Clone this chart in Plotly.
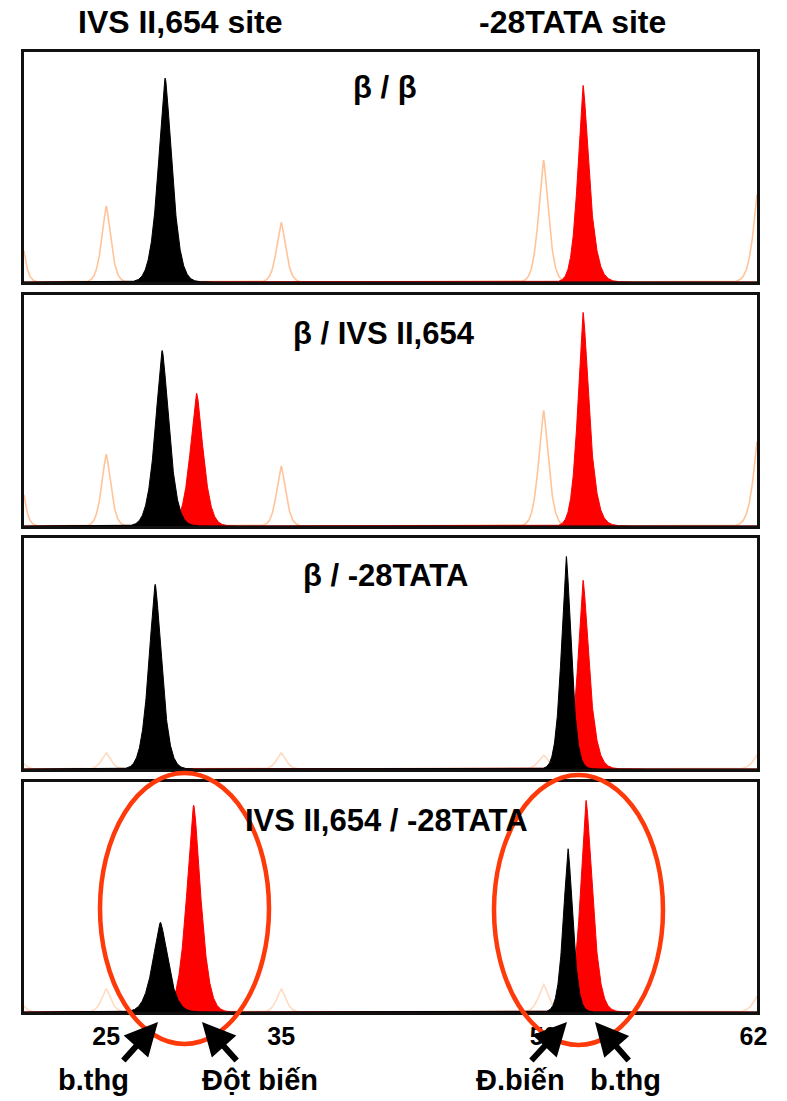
import numpy as np
import plotly.graph_objects as go

# ---------------- data ----------------
column_titles = ["IVS II,654 site", "-28TATA site"]
panel_labels = ["β / β", "β / IVS II,654", "β / -28TATA", "IVS II,654 / -28TATA"]
tick_values = [25, 35, 50, 62]
tick_labels = ["25", "35", "50", "62"]
bottom_labels = ["b.thg", "Đột biến", "Đ.biến", "b.thg"]

# size-standard (orange) peaks: centres and heights per panel
ladder_pos = [20.0, 25.0, 35.0, 50.0, 62.4]
ladder_h_p1 = [0.30, 0.33, 0.26, 0.53, 0.50]
ladder_h_p2 = [0.30, 0.31, 0.26, 0.50, 0.48]
ladder_h_p3 = [0.05, 0.07, 0.07, 0.06, 0.08]
ladder_h_p4 = [0.06, 0.10, 0.10, 0.12, 0.09]
ladder_w = [0.22, 0.24, 0.24, 0.26, 0.30]

# black peaks: position, height, width
black_pos_p1 = [28.37]
black_h_p1 = [0.887]
black_w_p1 = [0.36]
black_pos_p2 = [28.2]
black_h_p2 = [0.76]
black_w_p2 = [0.36]
black_pos_p3 = [27.8, 51.3]
black_h_p3 = [0.80, 0.92]
black_w_p3 = [0.34, 0.26]
black_pos_p4 = [28.1, 51.4]
black_h_p4 = [0.39, 0.71]
black_w_p4 = [0.40, 0.25]

# red peaks
red_pos_p1 = [52.26, 52.9]
red_h_p1 = [0.835, 0.07]
red_w_p1 = [0.28, 0.35]
red_pos_p2 = [30.17, 52.26, 52.9]
red_h_p2 = [0.575, 0.905, 0.07]
red_w_p2 = [0.34, 0.28, 0.35]
red_pos_p3 = [52.26, 52.9]
red_h_p3 = [0.80, 0.06]
red_w_p3 = [0.28, 0.35]
red_pos_p4 = [30.0, 52.43, 53.0]
red_h_p4 = [0.90, 0.90, 0.06]
red_w_p4 = [0.37, 0.30, 0.35]

panels = [
    (ladder_h_p1, black_pos_p1, black_h_p1, black_w_p1, red_pos_p1, red_h_p1, red_w_p1),
    (ladder_h_p2, black_pos_p2, black_h_p2, black_w_p2, red_pos_p2, red_h_p2, red_w_p2),
    (ladder_h_p3, black_pos_p3, black_h_p3, black_w_p3, red_pos_p3, red_h_p3, red_w_p3),
    (ladder_h_p4, black_pos_p4, black_h_p4, black_w_p4, red_pos_p4, red_h_p4, red_w_p4),
]

X_MIN, X_MAX = 20.3, 62.2
xs = np.linspace(X_MIN, X_MAX, 2500)


def trace_curve(pos, h, w):
    # sharp-tipped peak profile
    y = np.zeros_like(xs)
    for p, hh, ww in zip(pos, h, w):
        y += hh * np.exp(-0.5 * (np.abs(xs - p) / ww) ** 1.5)
    return y


W, H = 787, 1101
panel_px = [(52, 282), (295, 526), (538, 769), (782, 1012)]
LEFT_PX, RIGHT_PX = 24, 757

fig = go.Figure()
FONT = "Liberation Sans, Arial, sans-serif"

for i, (lh, bp, bh, bw, rp, rh, rw) in enumerate(panels):
    n = i + 1
    xa = "x" if n == 1 else f"x{n}"
    ya = "y" if n == 1 else f"y{n}"
    lad_op = 1.0 if i < 2 else 0.6
    fig.add_trace(go.Scatter(x=xs, y=trace_curve(ladder_pos, lh, ladder_w), mode="lines",
                             line=dict(color="#FFC49A", width=1.6), opacity=lad_op,
                             xaxis=xa, yaxis=ya, showlegend=False, hoverinfo="skip"))
    fig.add_trace(go.Scatter(x=xs, y=trace_curve(rp, rh, rw), mode="lines", fill="tozeroy",
                             line=dict(color="#FF0000", width=1), fillcolor="#FF0000",
                             xaxis=xa, yaxis=ya, showlegend=False, hoverinfo="skip"))
    fig.add_trace(go.Scatter(x=xs, y=trace_curve(bp, bh, bw), mode="lines", fill="tozeroy",
                             line=dict(color="#000000", width=1), fillcolor="#000000",
                             xaxis=xa, yaxis=ya, showlegend=False, hoverinfo="skip"))

    top, bot = panel_px[i]
    xkey = "xaxis" if n == 1 else f"xaxis{n}"
    ykey = "yaxis" if n == 1 else f"yaxis{n}"
    xaxis = dict(domain=[LEFT_PX / W, RIGHT_PX / W], range=[X_MIN, X_MAX], showgrid=False,
                 zeroline=False, showline=True, mirror=True, linecolor="#111", linewidth=2.5,
                 anchor=ya, ticks="", automargin=False)
    if n == 4:
        xaxis.update(tickvals=tick_values, ticktext=[f"<b>{t}</b>" for t in tick_labels],
                     tickfont=dict(family=FONT, size=25, color="black"), ticklabelstandoff=0)
    else:
        xaxis.update(showticklabels=False)
    fig.layout[xkey] = xaxis
    fig.layout[ykey] = dict(domain=[1 - bot / H, 1 - top / H], range=[0, 1.0], showgrid=False,
                            zeroline=False, showline=True, mirror=True, linecolor="#111",
                            linewidth=2.5, showticklabels=False, ticks="", anchor=xa,
                            automargin=False)

annotations = []
for txt, cx in zip(column_titles, [180, 572]):
    annotations.append(dict(text=f"<b>{txt}</b>", x=cx / W, y=1 - 22 / H, xref="paper", yref="paper",
                            showarrow=False, xanchor="center", yanchor="middle",
                            font=dict(family=FONT, size=32, color="black")))
for txt, (cx, cy) in zip(panel_labels, [(385, 88), (384, 333), (385, 575), (386, 820)]):
    annotations.append(dict(text=f"<b>{txt}</b>", x=cx / W, y=1 - cy / H, xref="paper", yref="paper",
                            showarrow=False, xanchor="center", yanchor="middle",
                            font=dict(family=FONT, size=31, color="black")))
for txt, cx in zip(bottom_labels, [93, 260, 520, 625]):
    annotations.append(dict(text=f"<b>{txt}</b>", x=cx / W, y=1 - 1080 / H, xref="paper", yref="paper",
                            showarrow=False, xanchor="center", yanchor="middle",
                            font=dict(family=FONT, size=29, color="black")))
arrows = [((158, 1022), (122, 1062)), ((202, 1022), (238, 1062)),
          ((567, 1022), (530, 1062)), ((595, 1022), (630, 1062))]
for (tx, ty), (sx, sy) in arrows:
    annotations.append(dict(text="", x=tx / W, y=1 - ty / H, xref="paper", yref="paper",
                            showarrow=True, ax=sx - tx, ay=sy - ty, axref="pixel", ayref="pixel",
                            arrowhead=2, arrowsize=1.1, arrowwidth=6, arrowcolor="black",
                            standoff=0, startstandoff=0))

shapes = []
for (x0, x1, y0, y1) in [(100, 269, 773, 1044), (494, 663, 775, 1045)]:
    shapes.append(dict(type="circle", xref="paper", yref="paper",
                       x0=x0 / W, x1=x1 / W, y0=1 - y1 / H, y1=1 - y0 / H,
                       line=dict(color="#FF3A0A", width=4.5), fillcolor="rgba(0,0,0,0)", layer="above"))

fig.update_layout(width=W, height=H, margin=dict(l=0, r=0, t=0, b=0, pad=0, autoexpand=False),
                  paper_bgcolor="white", plot_bgcolor="white",
                  annotations=annotations, shapes=shapes, showlegend=False)

fig.write_html("out.html", config={"displayModeBar": False},
               post_script="document.body.style.margin='0';document.body.style.overflow='hidden';")
